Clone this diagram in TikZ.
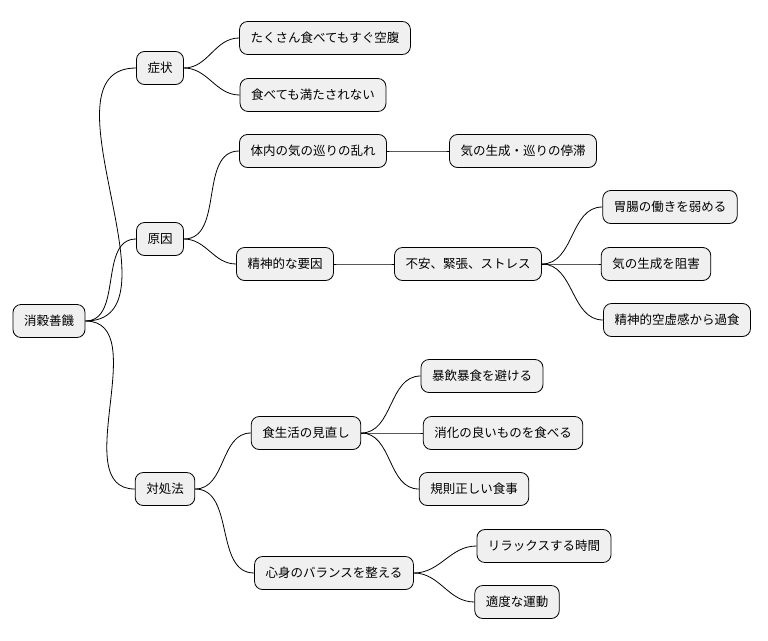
\documentclass[tikz,border=0pt]{standalone}
\usepackage{fontspec}
\setmainfont{Noto Sans CJK JP}
\begin{document}
\begin{tikzpicture}[x=1pt,y=-1pt,
 n/.style={draw=black,fill=black!6,rounded corners=8pt,minimum height=33pt,inner xsep=11pt,font=\fontsize{12.5}{14}\selectfont,line width=0.8pt},
 e/.style={draw=black,line width=0.8pt}]
\useasboundingbox (0,0) rectangle (768,640);
\node[n] (r) at (49,321) {消穀善饑};
\node[n] (a) at (160,68) {症状};
\node[n] (b) at (160,239) {原因};
\node[n] (c) at (165,489) {対処法};
\node[n] (a1) at (325,38) {たくさん食べてもすぐ空腹};
\node[n] (a2) at (313,95) {食べても満たされない};
\node[n] (b1) at (313,151) {体内の気の巡りの乱れ};
\node[n] (b11) at (523,151) {気の生成・巡りの停滞};
\node[n] (b2) at (285,264) {精神的な要因};
\node[n] (b21) at (468,264) {不安、緊張、ストレス};
\node[n] (b211) at (670,207) {胃腸の働きを弱める};
\node[n] (b212) at (656,264) {気の生成を阻害};
\node[n] (b213) at (677,320) {精神的空虚感から過食};
\node[n] (c1) at (306,433) {食生活の見直し};
\node[n] (c11) at (482,376) {暴飲暴食を避ける};
\node[n] (c12) at (503,433) {消化の良いものを食べる};
\node[n] (c13) at (474,489) {規則正しい食事};
\node[n] (c2) at (334,573) {心身のバランスを整える};
\node[n] (c21) at (544,546) {リラックスする時間};
\node[n] (c22) at (517,602) {適度な運動};
\foreach \p/\c in {r/a,r/b,r/c,a/a1,a/a2,b/b1,b/b2,b1/b11,b2/b21,b21/b211,b21/b212,b21/b213,c/c1,c/c2,c1/c11,c1/c12,c1/c13,c2/c21,c2/c22}
 \draw[e] (\p.east) to[out=0,in=180] (\c.west);
\end{tikzpicture}
\end{document}
